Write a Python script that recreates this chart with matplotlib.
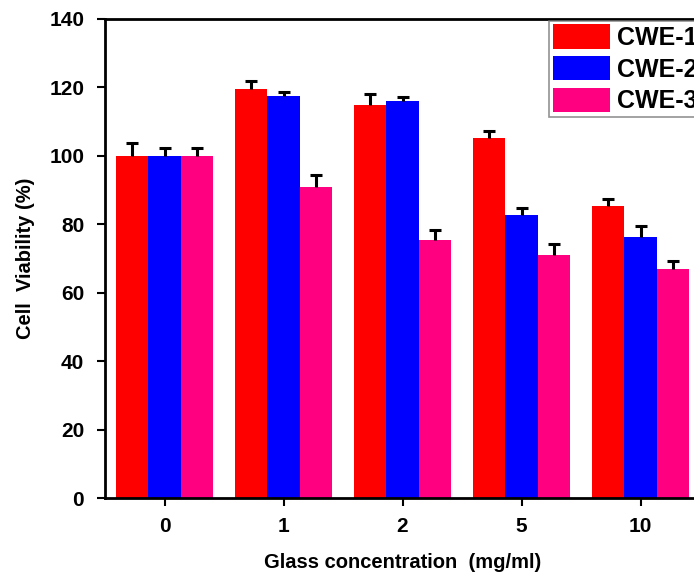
import numpy as np
import matplotlib
matplotlib.use("Agg")
import matplotlib.pyplot as plt

plt.rcParams['font.family'] = ['Liberation Sans', 'DejaVu Sans']
plt.rcParams['font.weight'] = 'bold'

# data
conc = ['0', '1', '2', '5', '10']
series = ['CWE-1', 'CWE-2', 'CWE-3']
cwe1 = [100.0, 119.6, 114.9, 105.3, 85.2]
cwe2 = [100.0, 117.5, 116.1, 82.7, 76.4]
cwe3 = [100.0, 90.8, 75.4, 71.1, 66.9]
err1 = [3.9, 2.2, 3.1, 2.1, 2.2]
err2 = [2.2, 1.2, 1.1, 2.2, 3.1]
err3 = [2.4, 3.6, 3.0, 3.1, 2.3]
colors = ['#ff0000', '#0000ff', '#ff0080']

fig = plt.figure(figsize=(6.94, 5.81), dpi=100)
ax = fig.add_axes([105/694, 83/581, 595/694, 479/581])

x = np.arange(len(conc))
w = 0.27
vals = [cwe1, cwe2, cwe3]
errs = [err1, err2, err3]
for i in range(3):
    xs = x + (i - 1) * w
    ax.bar(xs, vals[i], w, color=colors[i], label=series[i], zorder=2)
    eb = ax.errorbar(xs, vals[i], yerr=[np.zeros(len(x)), errs[i]], fmt='none',
                     ecolor='black', elinewidth=2.2, capsize=4, capthick=2.2, zorder=3)
    eb[1][0].set_visible(False)  # hide the lower cap

ax.set_xlim(-0.5, 4.5)
ax.set_ylim(0, 140)
ax.set_yticks(range(0, 141, 20))
ax.set_xticks(x)
ax.set_xticklabels(conc)
ax.tick_params(direction='out', length=6, width=1.5, labelsize=15, pad=9)
ax.tick_params(axis='x', pad=8)
for lab in ax.get_xticklabels() + ax.get_yticklabels():
    lab.set_fontweight('bold')
for s in ax.spines.values():
    s.set_linewidth(2)

ax.set_xlabel('Glass concentration  (mg/ml)', fontsize=14.5, fontweight='bold', labelpad=12)
ax.set_ylabel('Cell  Viability (%)', fontsize=14.5, fontweight='bold', labelpad=10)

leg = ax.legend(loc='upper left', bbox_to_anchor=(549/694, 1 - 21/581),
                bbox_transform=fig.transFigure, fontsize=18, frameon=True,
                fancybox=False, handlelength=2.28, handleheight=1.12,
                handletextpad=0.3, labelspacing=0.24, borderpad=0.14,
                borderaxespad=0)
leg.get_frame().set_edgecolor('#777777')
leg.get_frame().set_linewidth(1.2)
for t in leg.get_texts():
    t.set_fontweight('bold')

fig.savefig('out.png', dpi=100)
